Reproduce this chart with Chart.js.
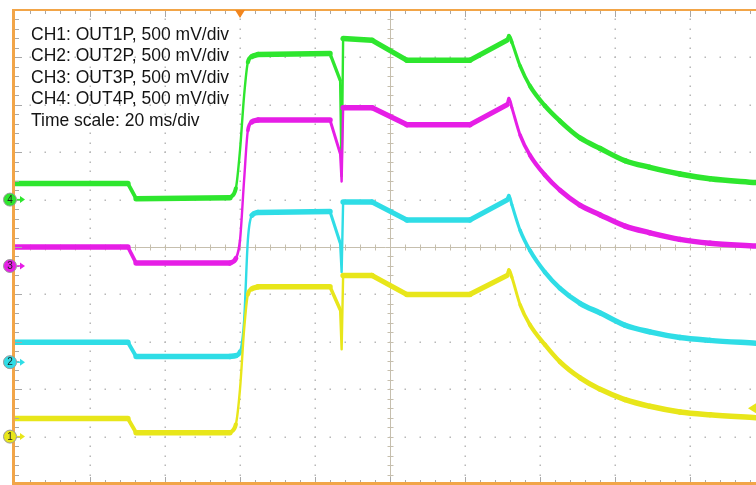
<!DOCTYPE html>
<html>
<head>
<meta charset="utf-8">
<script src="https://cdn.jsdelivr.net/npm/chart.js@4.4.1/dist/chart.umd.min.js"></script>
<style>
  html, body { margin: 0; padding: 0; background: #ffffff; overflow: hidden; }
  canvas { display: block; }
</style>
</head>
<body>
<canvas id="scope" width="756" height="485"></canvas>
<script>
// Breakpoint times of the captured record (ms from the left edge of the screen)
const timeMs = [0, 30.1, 32.3, 57.3, 58.9, 60.0, 61.1, 62.1, 63.2, 64.8, 84.0, 86.7, 87.1, 87.5,
  95.2, 104.5, 121.3, 131.2, 131.7, 132.5, 134.7, 137.3, 141.3, 145.3, 150.7, 156.0, 162.7,
  169.3, 177.3, 185.3, 197.6];

// Channel voltages (V, relative to each channel's ground marker)
const ch1Volts = [0.19, 0.19, 0.04, 0.04, 0.13, 0.50, 1.13, 1.50, 1.56, 1.58, 1.58, 1.34, 0.92, 1.70,
  1.70, 1.50, 1.50, 1.70, 1.76, 1.68, 1.39, 1.18, 0.97, 0.79, 0.62, 0.50, 0.39, 0.32, 0.26, 0.23, 0.20];
const ch2Volts = [0.21, 0.21, 0.06, 0.06, 0.07, 0.11, 0.44, 1.29, 1.55, 1.58, 1.59, 1.26, 0.95, 1.69,
  1.69, 1.50, 1.50, 1.71, 1.76, 1.66, 1.39, 1.18, 0.95, 0.78, 0.62, 0.52, 0.39, 0.32, 0.26, 0.23, 0.20];
const ch3Volts = [0.20, 0.20, 0.03, 0.03, 0.08, 0.27, 0.91, 1.43, 1.52, 1.54, 1.54, 1.19, 0.89, 1.67,
  1.67, 1.49, 1.49, 1.70, 1.77, 1.67, 1.38, 1.17, 0.96, 0.80, 0.64, 0.54, 0.42, 0.35, 0.28, 0.24, 0.21];
const ch4Volts = [0.17, 0.17, 0.01, 0.02, 0.12, 0.52, 1.10, 1.45, 1.51, 1.53, 1.54, 1.26, 0.25, 1.70,
  1.68, 1.47, 1.47, 1.68, 1.73, 1.66, 1.41, 1.20, 0.99, 0.83, 0.65, 0.54, 0.41, 0.34, 0.27, 0.22, 0.18];

const channelNumbers = ['1', '2', '3', '4'];
const channelLabels = [
  'CH1: OUT1P, 500 mV/div',
  'CH2: OUT2P, 500 mV/div',
  'CH3: OUT3P, 500 mV/div',
  'CH4: OUT4P, 500 mV/div',
  'Time scale: 20 ms/div'
];
const channelColors = ['#e8e61a', '#2fdde6', '#e61ee6', '#2ee62e'];
// Ground-marker position of each channel (divisions from screen centre)
const channelOffsetDiv = [-4.0, -2.43, -0.4, 1.0];

const voltsPerDiv = 0.5;
const msPerDiv = 20;
const screenMs = 197.6;
const triggerTimeMs = 60;
const triggerLevelCh1Volts = 0.30;

// The record is drawn in pieces: straight ramps/steps, smooth turn-on and RC decay
const pieceBounds = [0, 3, 9, 17, timeMs.length - 1];
const pieceSmooth = [false, true, false, true];

const channelVolts = [ch1Volts, ch2Volts, ch3Volts, ch4Volts];
const traceWidth = 5.5;

function tracePoints(ch, from, to) {
  const pts = [];
  for (let i = from; i <= to; i++) {
    pts.push({ x: timeMs[i], y: channelOffsetDiv[ch] + channelVolts[ch][i] / voltsPerDiv });
  }
  return pts;
}

// steep edges of the noisy band come out thinner than the flat parts
function segmentWidth(ctx) {
  const dx = ctx.p1.x - ctx.p0.x;
  const dy = ctx.p1.y - ctx.p0.y;
  const len = Math.hypot(dx, dy) || 1;
  return Math.max(2.4, traceWidth * Math.sqrt(Math.abs(dx) / len));
}

const datasets = [];
channelVolts.forEach((_, ch) => {
  for (let p = 0; p < pieceSmooth.length; p++) {
    datasets.push({
      label: 'CH' + channelNumbers[ch],
      data: tracePoints(ch, pieceBounds[p], pieceBounds[p + 1]),
      borderColor: channelColors[ch],
      borderWidth: traceWidth,
      segment: { borderWidth: segmentWidth },
      pointRadius: 0,
      tension: 0,
      cubicInterpolationMode: pieceSmooth[p] ? 'monotone' : 'default',
      borderJoinStyle: 'round',
      borderCapStyle: 'round'
    });
  }
});

// Oscilloscope graticule: dotted divisions, centre axes with minor ticks
const graticule = {
  id: 'graticule',
  beforeDatasetsDraw(chart) {
    const { ctx, chartArea: a, scales: { x, y } } = chart;
    ctx.save();
    ctx.fillStyle = '#b8b8b8';
    const nMinorX = Math.floor(screenMs / (msPerDiv / 5));
    for (let k = 1; k * msPerDiv <= screenMs; k++) {
      if (k === 5) continue;
      const px = Math.round(x.getPixelForValue(k * msPerDiv));
      for (let m = 1; m < 50; m++) {
        const py = Math.round(y.getPixelForValue(-5 + m * 0.2));
        ctx.fillRect(px - 0.5, py - 0.5, 1.5, 1.5);
      }
    }
    for (let d = -4; d <= 4; d++) {
      if (d === 0) continue;
      const py = Math.round(y.getPixelForValue(d));
      for (let m = 1; m <= nMinorX; m++) {
        const px = Math.round(x.getPixelForValue(m * msPerDiv / 5));
        ctx.fillRect(px - 0.5, py - 0.5, 1.5, 1.5);
      }
    }
    const cx = Math.round(x.getPixelForValue(5 * msPerDiv)) + 0.5;
    const cy = Math.round(y.getPixelForValue(0)) + 0.5;
    ctx.strokeStyle = '#c6bfae';
    ctx.lineWidth = 1;
    ctx.beginPath();
    ctx.moveTo(cx, a.top); ctx.lineTo(cx, a.bottom);
    ctx.moveTo(a.left, cy); ctx.lineTo(a.right, cy);
    for (let m = 1; m < 50; m++) {
      const py = Math.round(y.getPixelForValue(-5 + m * 0.2)) + 0.5;
      ctx.moveTo(cx - 3, py); ctx.lineTo(cx + 3, py);
    }
    for (let m = 1; m <= nMinorX; m++) {
      const px = Math.round(x.getPixelForValue(m * msPerDiv / 5)) + 0.5;
      ctx.moveTo(px, cy - 3); ctx.lineTo(px, cy + 3);
    }
    ctx.stroke();
    ctx.restore();
  },
  afterDatasetsDraw(chart) {
    const { ctx, chartArea: a, scales: { x, y } } = chart;
    ctx.save();
    const nMinorX = Math.floor(screenMs / (msPerDiv / 5));
    ctx.strokeStyle = '#a8a8a8';
    ctx.lineWidth = 1;
    ctx.beginPath();
    for (let m = 1; m <= nMinorX; m++) {
      const px = Math.round(x.getPixelForValue(m * msPerDiv / 5)) + 0.5;
      const len = (m % 5 === 0) ? 7 : 4;
      ctx.moveTo(px, a.top); ctx.lineTo(px, a.top + len);
      ctx.moveTo(px, a.bottom); ctx.lineTo(px, a.bottom - len);
    }
    for (let m = 1; m < 50; m++) {
      const py = Math.round(y.getPixelForValue(-5 + m * 0.2)) + 0.5;
      const len = (m % 5 === 0) ? 7 : 4;
      ctx.moveTo(a.left, py); ctx.lineTo(a.left + len, py);
    }
    ctx.stroke();

    // orange frame (left, top, bottom)
    ctx.strokeStyle = '#f2a548';
    ctx.lineWidth = 2;
    ctx.beginPath();
    ctx.moveTo(a.left - 1, a.top); ctx.lineTo(a.right, a.top);
    ctx.stroke();
    ctx.lineWidth = 3;
    ctx.beginPath();
    ctx.moveTo(a.left - 1.5, a.top - 1); ctx.lineTo(a.left - 1.5, a.bottom);
    ctx.moveTo(a.left - 3, a.bottom - 0.5); ctx.lineTo(a.right, a.bottom - 0.5);
    ctx.stroke();

    // trigger position marker
    const tx = x.getPixelForValue(triggerTimeMs);
    ctx.fillStyle = '#f2861e';
    ctx.beginPath();
    ctx.moveTo(tx - 5, a.top); ctx.lineTo(tx + 5, a.top); ctx.lineTo(tx, a.top + 8);
    ctx.closePath(); ctx.fill();

    // trigger level marker (CH1)
    const ty = y.getPixelForValue(channelOffsetDiv[0] + triggerLevelCh1Volts / voltsPerDiv);
    ctx.fillStyle = channelColors[0];
    ctx.beginPath();
    ctx.moveTo(a.right, ty - 5); ctx.lineTo(a.right, ty + 5); ctx.lineTo(a.right - 8, ty);
    ctx.closePath(); ctx.fill();

    // channel ground markers
    for (let ch = 0; ch < 4; ch++) {
      const py = y.getPixelForValue(channelOffsetDiv[ch]);
      ctx.strokeStyle = channelColors[ch];
      ctx.fillStyle = channelColors[ch];
      ctx.lineWidth = 1.5;
      ctx.beginPath();
      ctx.moveTo(a.left + 2, py); ctx.lineTo(a.left + 7, py);
      ctx.stroke();
      ctx.beginPath();
      ctx.moveTo(a.left + 5, py - 3.5); ctx.lineTo(a.left + 10, py); ctx.lineTo(a.left + 5, py + 3.5);
      ctx.closePath(); ctx.fill();

      ctx.beginPath();
      ctx.arc(a.left - 5, py, 6.5, 0, Math.PI * 2);
      ctx.fill();
      ctx.strokeStyle = '#9a9a9a';
      ctx.lineWidth = 1;
      ctx.stroke();
      ctx.fillStyle = '#222';
      ctx.font = '10px "Liberation Sans", Arial, sans-serif';
      ctx.textAlign = 'center';
      ctx.textBaseline = 'middle';
      ctx.fillText(channelNumbers[ch], a.left - 5, py + 0.5);
    }

    // channel / timebase annotations
    ctx.fillStyle = '#141414';
    ctx.font = '17.5px "Liberation Sans", Arial, sans-serif';
    ctx.textAlign = 'left';
    ctx.textBaseline = 'alphabetic';
    channelLabels.forEach((s, i) => ctx.fillText(s, 31, 39.5 + 21.5 * i));
    ctx.restore();
  }
};

new Chart(document.getElementById('scope'), {
  type: 'line',
  data: { datasets },
  options: {
    responsive: false,
    devicePixelRatio: 1,
    animation: false,
    events: [],
    layout: { padding: { left: 15, top: 10, right: 0, bottom: 1 } },
    plugins: { legend: { display: false }, tooltip: { enabled: false } },
    scales: {
      x: { type: 'linear', min: 0, max: screenMs, display: false },
      y: { type: 'linear', min: -5, max: 5, display: false }
    }
  },
  plugins: [graticule]
});
</script>
</body>
</html>
